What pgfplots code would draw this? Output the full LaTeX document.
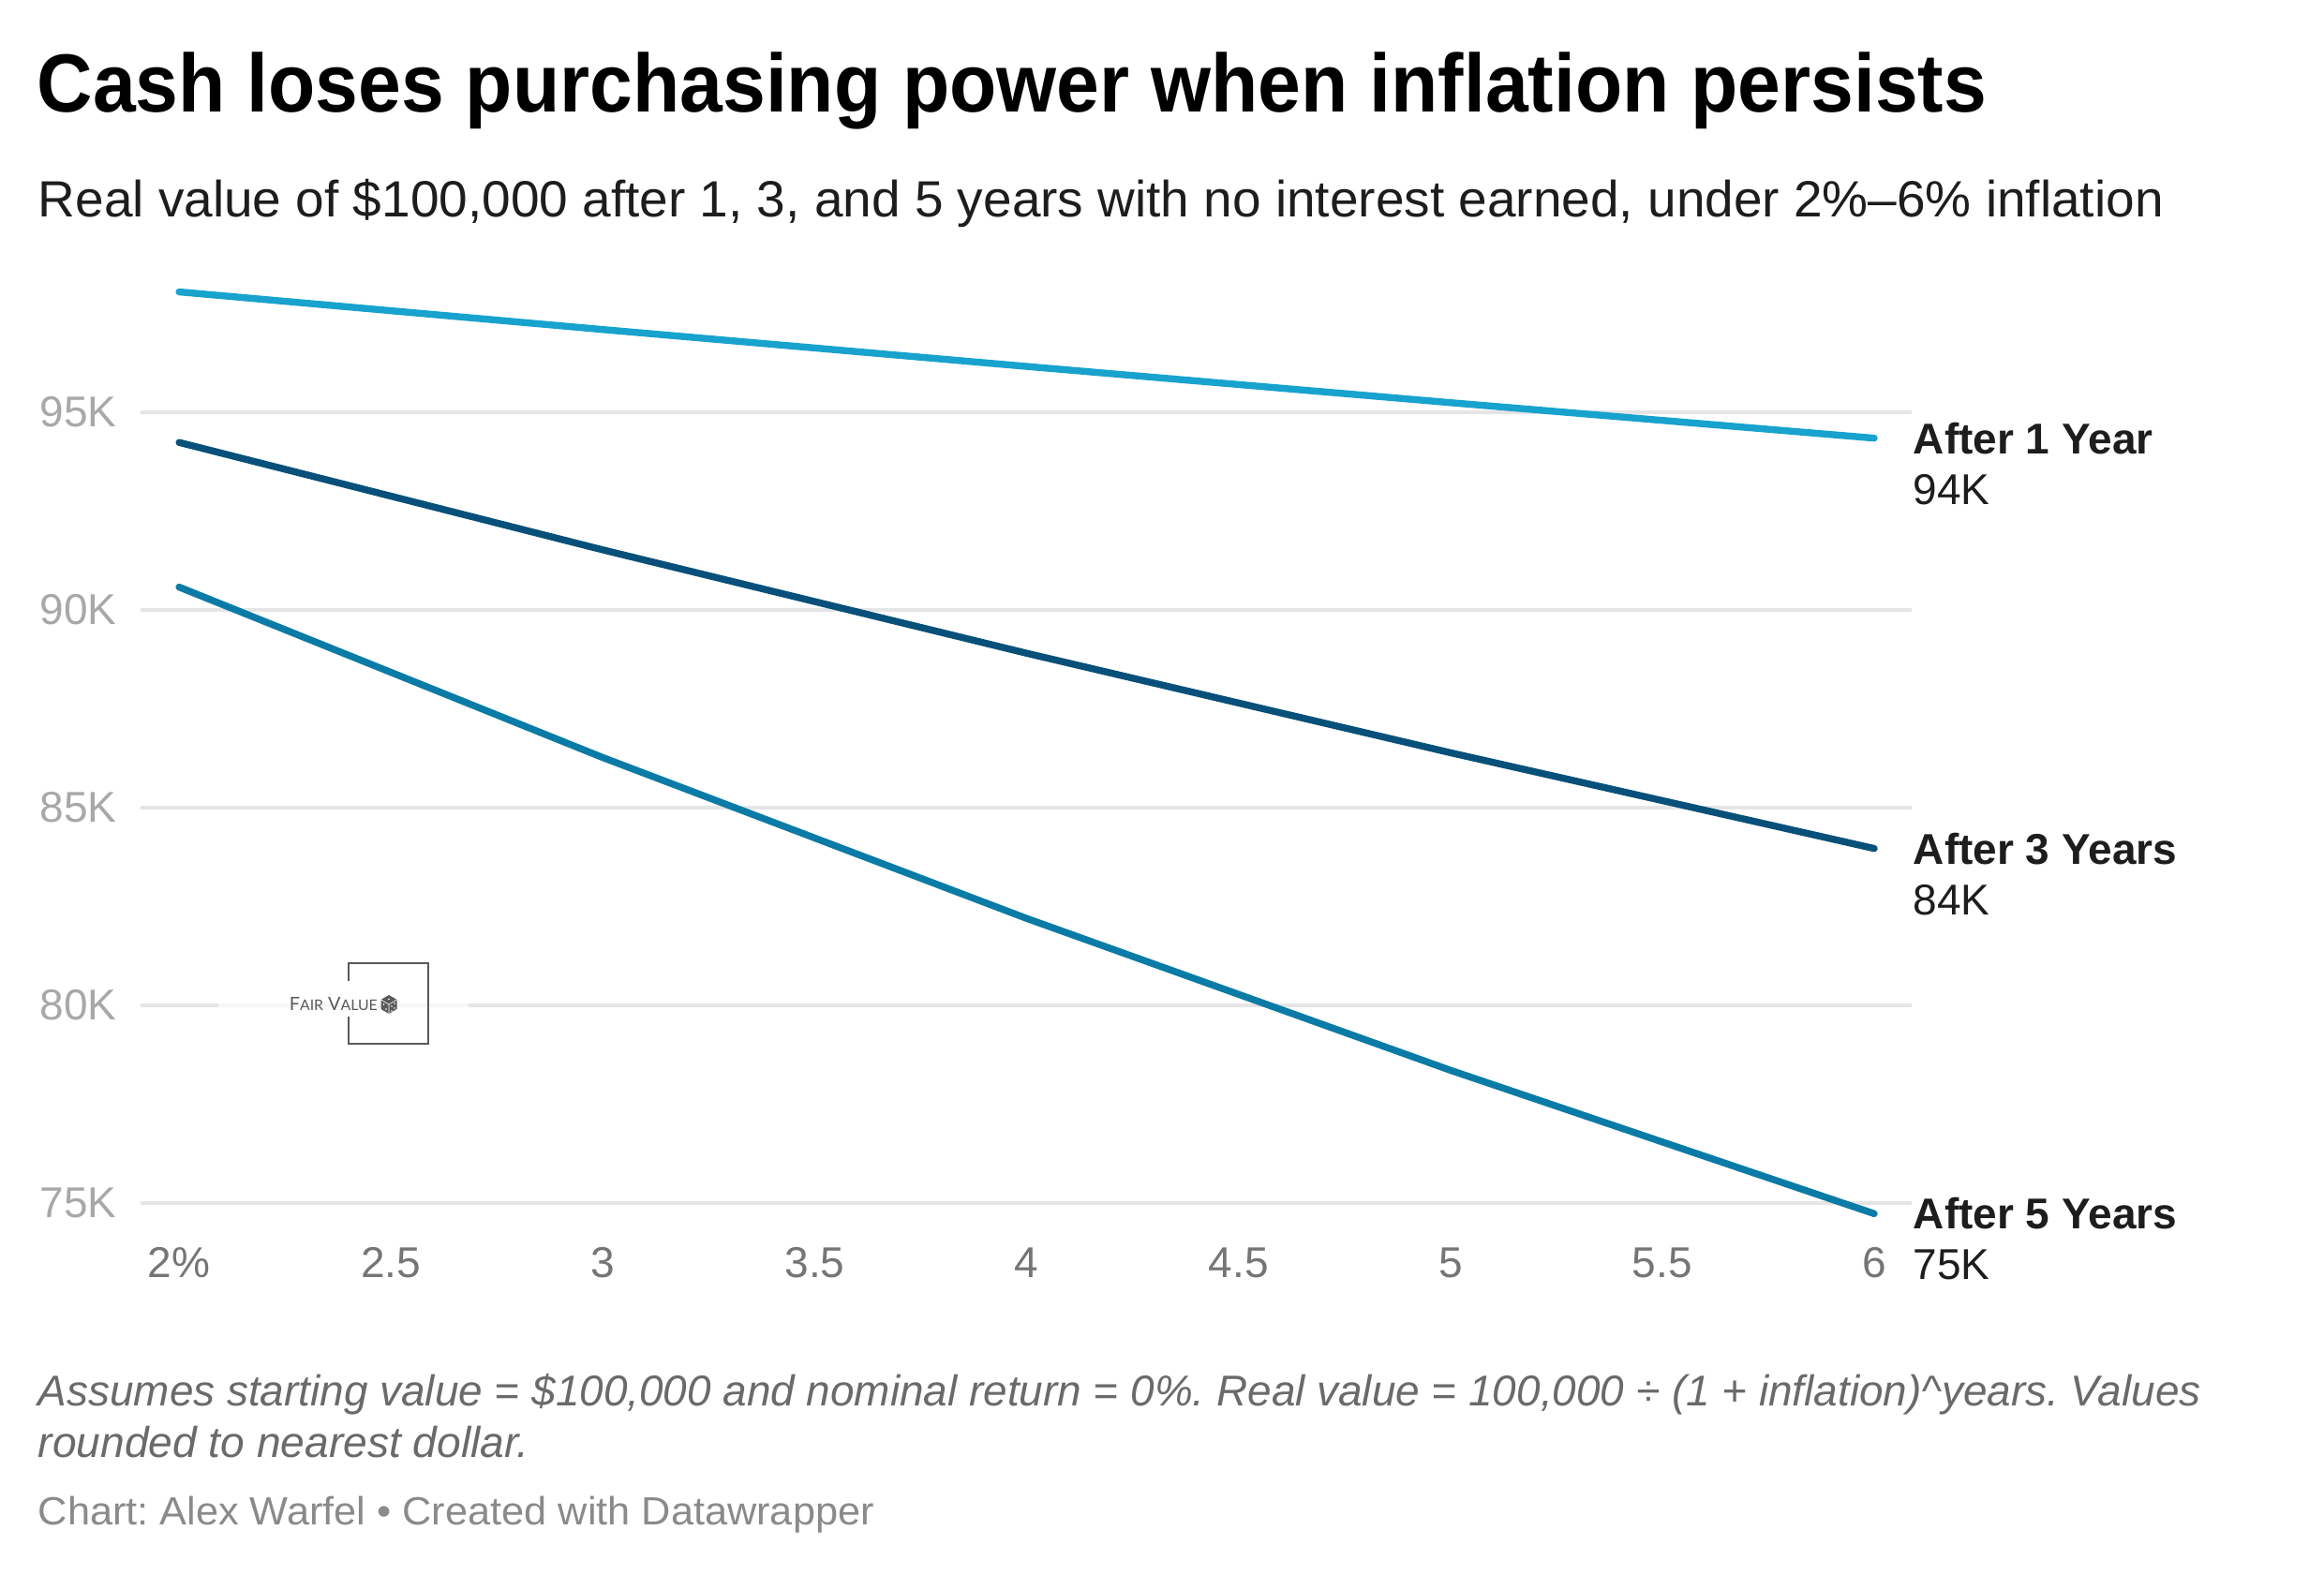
\documentclass[border=0pt]{standalone}
\usepackage{pgfplots}
\pgfplotsset{compat=1.18}
\usepackage{pgfplotstable}
\usepackage{graphicx}
\usepackage{fontspec}
\setmainfont{Liberation Sans}
\newfontfamily\logofont{Lato}
\frenchspacing

\definecolor{c1}{HTML}{18A2CE}
\definecolor{c3}{HTML}{07507A}
\definecolor{c5}{HTML}{0A7BA6}
\definecolor{gridc}{HTML}{E5E5E5}
\definecolor{ylab}{HTML}{A8A8A8}
\definecolor{xlab}{HTML}{757575}
\definecolor{txt}{HTML}{1D1D1D}
\definecolor{note}{HTML}{6A6A6A}
\definecolor{credit}{HTML}{8A8A8A}
\definecolor{logoc}{HTML}{5A5A5A}

% real value of 100,000 by inflation rate (%)
\pgfplotstableread{
infl y1    y3    y5
2    98039 94232 90573
3    97087 91514 86261
4    96154 88900 82193
5    95238 86384 78353
6    94340 83962 74726
}\data

\newcommand\lab{\fontsize{11.5}{13}\selectfont}

\begin{document}
\begin{tikzpicture}
\path[use as bounding box, fill=white] (0,0) rectangle (620pt,420pt);

\begin{axis}[
    at={(37.5pt,88.5pt)}, anchor=south west,
    scale only axis, width=472.5pt, height=263.75pt,
    xmin=1.909, xmax=6.0885, ymin=74000, ymax=99000,
    clip=false,
    axis line style={draw=none},
    major tick style={draw=none},
    ytick={75000,80000,85000,90000,95000},
    yticklabels={75K,80K,85K,90K,95K},
    xtick={2,2.5,3,3.5,4,4.5,5,5.5,6},
    xticklabels={2\%,2.5,3,3.5,4,4.5,5,5.5,6},
    scaled y ticks=false,
    ymajorgrids,
    grid style={color=gridc, line width=1pt},
    yticklabel style={anchor=west, inner sep=0pt, xshift=-27pt, font=\lab, text=ylab},
    xticklabel style={anchor=base, inner sep=0pt, yshift=-9.25pt, font=\lab, text=xlab},
    every axis plot/.append style={line width=1.85pt, line cap=round, line join=round},
  ]
  \addplot[c1] table[x=infl, y=y1] {\data};
  \addplot[c3] table[x=infl, y=y3] {\data};
  \addplot[c5] table[x=infl, y=y5] {\data};

  \node[anchor=west, inner sep=0pt, xshift=10.25pt, font=\lab\bfseries, text=txt] at (axis cs:6,94340) {After 1 Year};
  \node[anchor=west, inner sep=0pt, xshift=10.25pt, yshift=-13.75pt, font=\lab, text=txt] at (axis cs:6,94340) {94K};
  \node[anchor=west, inner sep=0pt, xshift=10.25pt, font=\lab\bfseries, text=txt] at (axis cs:6,83962) {After 3 Years};
  \node[anchor=west, inner sep=0pt, xshift=10.25pt, yshift=-13.75pt, font=\lab, text=txt] at (axis cs:6,83962) {84K};
  \node[anchor=west, inner sep=0pt, xshift=10.25pt, font=\lab\bfseries, text=txt] at (axis cs:6,74726) {After 5 Years};
  \node[anchor=west, inner sep=0pt, xshift=10.25pt, yshift=-13.75pt, font=\lab, text=txt] at (axis cs:6,74726) {75K};
\end{axis}

% texts and logo, placed in pixel units of the reference (y down)
\begin{scope}[x=0.25pt, y=-0.25pt, shift={(0pt,420pt)}]
  \node[anchor=base west, inner sep=0pt, text=black] at (39,120)
    {\resizebox{520pt}{\height}{\fontsize{22}{26}\selectfont\bfseries Cash loses purchasing power when inflation persists}};
  \node[anchor=base west, inner sep=0pt, text=txt] at (40,232)
    {\resizebox{567pt}{\height}{\fontsize{13.6}{16}\selectfont Real value of \$100,000 after 1, 3, and 5 years with no interest earned, under 2\%–6\% inflation}};
  \node[anchor=base west, inner sep=0pt, text=note] at (40,1500)
    {\resizebox{577pt}{\height}{\lab\itshape Assumes starting value = \$100,000 and nominal return = 0\%. Real value = 100,000 ÷ (1 + inflation)\textasciicircum years. Values}};
  \node[anchor=base west, inner sep=0pt, text=note] at (40,1555)
    {\resizebox{131pt}{\height}{\lab\itshape rounded to nearest dollar.}};
  \node[anchor=base west, inner sep=0pt, text=credit] at (40,1627)
    {\resizebox{223pt}{\height}{\fontsize{10.5}{12}\selectfont Chart: Alex Warfel • Created with Datawrapper}};

  % logo
  \fill[white, opacity=0.7] (233,1066) rectangle (500,1080);
  \draw[logoc, line width=0.35pt] (372,1028) rectangle (457,1114);
  \fill[white] (368,1047) rectangle (376,1085);
  \node[anchor=base west, inner sep=0pt, text=logoc] at (308,1079)
    {\resizebox{23.5pt}{\height}{\logofont\fontsize{4.9}{5}\selectfont F{\fontsize{3.9}{4}\selectfont AIR} V{\fontsize{3.9}{4}\selectfont ALUE}}};
  % dice glyph
  \fill[logoc] (415,1062) -- (423.5,1067) -- (423.5,1077) -- (415,1082) -- (406.5,1077) -- (406.5,1067) -- cycle;
  \draw[white, line width=0.15pt] (406.5,1067) -- (415,1072) -- (423.5,1067) (415,1072) -- (415,1082);
  \foreach \p in {(415,1066.5),(409.5,1072),(412,1077),(418,1074),(421,1071),(418,1079),(421,1076)}
    \fill[white] \p circle (0.9);
\end{scope}
\end{tikzpicture}
\end{document}
